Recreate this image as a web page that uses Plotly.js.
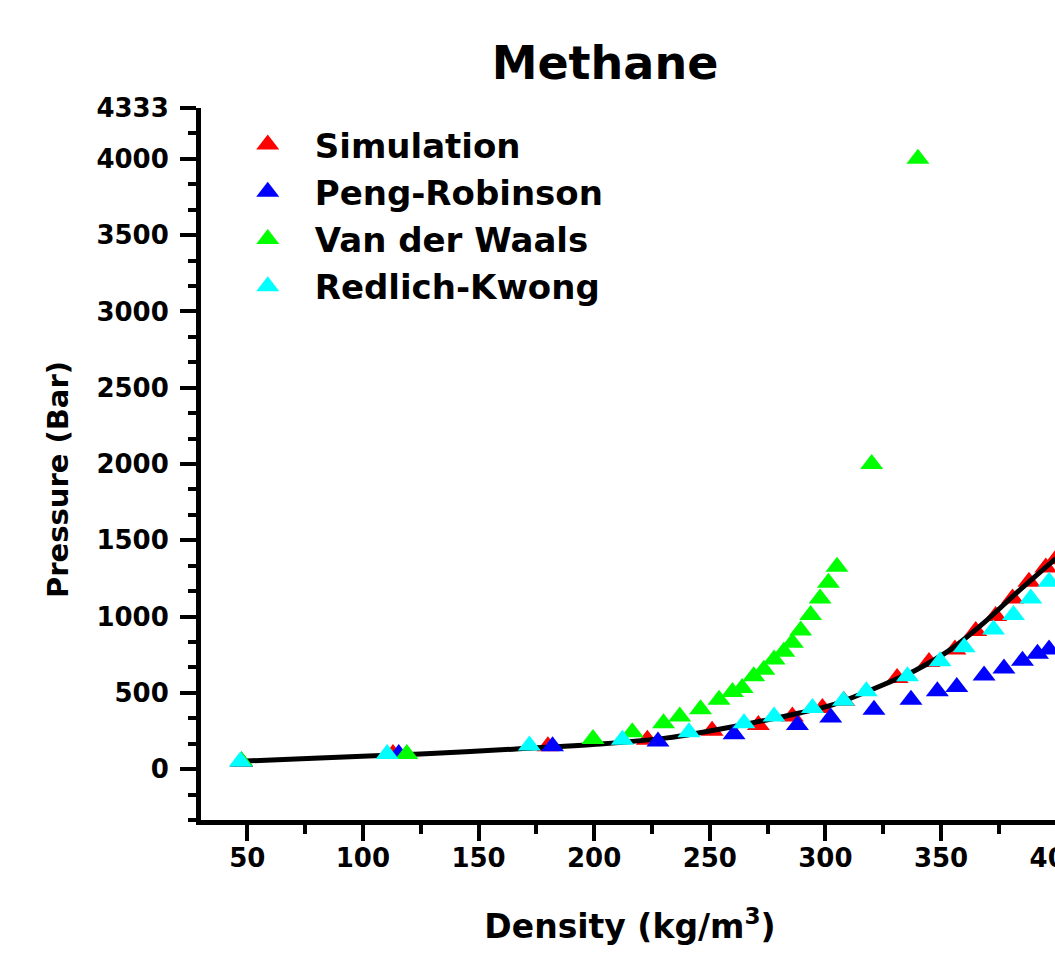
<!DOCTYPE html>
<html>
<head>
<meta charset="utf-8">
<script src="https://cdn.plot.ly/plotly-3.0.1.min.js"></script>
<style>
html, body { margin: 0; padding: 0; overflow: hidden; background: #fff; }
#chart { width: 1100px; height: 954px; }
</style>
</head>
<body>
<div id="chart"></div>
<script>
// ---- data ----
const simDensity = [47.5, 113, 180, 223, 251, 271, 285.7, 298.7, 308, 331, 344.8, 356, 365, 373.6, 380.9, 388, 395.3, 399.6];
const simPressure = [50, 100, 150, 192, 252, 290, 345, 400, 446, 597, 703, 784, 905, 1003, 1119, 1229, 1321, 1376];

const fitDensity = [47.7, 78.7, 125, 165, 202.8, 231.6, 260.5, 289.3, 303.7, 325.3, 339.8, 354.2, 368.6, 383, 399.6];
const fitPressure = [52, 72, 99, 131, 165, 205, 280, 370, 425, 555, 655, 785, 960, 1160, 1380];

const prDensity = [47.5, 115.5, 182, 227.6, 260.5, 287.9, 302.3, 321, 337, 348.4, 356.8, 368.6, 377.2, 385.2, 391.7, 396.7];
const prPressure = [50, 100, 150, 181, 229, 290, 339, 389, 455, 510, 538, 613, 659, 711, 757, 784];

const vdwDensity = [47.5, 119, 199.5, 216.5, 230, 237, 246, 254, 259.8, 264, 269, 273.4, 277.8, 282, 285.7, 289.3, 293.6, 297.7, 301.3, 305, 320, 340];
const vdwPressure = [52, 100, 198, 242, 301, 345, 393, 455, 505, 532, 609, 652, 718, 769, 828, 909, 1010, 1119, 1222, 1326, 2000, 4000];

const rkDensity = [47, 110.5, 172, 212.2, 241, 264.8, 277.8, 294.4, 307.8, 317.7, 335.5, 349.6, 360, 372.7, 381.3, 388.8, 396.7];
const rkPressure = [50, 100, 155, 192, 242, 301, 345, 400, 448, 510, 609, 707, 799, 915, 1010, 1119, 1229];

const yTickVals = [0, 500, 1000, 1500, 2000, 2500, 3000, 3500, 4000, 4333];
const yTickText = ['0', '500', '1000', '1500', '2000', '2500', '3000', '3500', '4000', '4333'];

// ---- chart ----
const FONT = 'DejaVu Sans, Arial, sans-serif';
const W = 1100, H = 954, ML = 201, MR = 41, MT = 108, MB = 134;
const PW = W - ML - MR, PH = H - MT - MB;

function markerTrace(name, x, y, color) {
  return {
    type: 'scatter', mode: 'markers', name: name, x: x, y: y,
    marker: { symbol: 'triangle-up', size: 20, color: color, line: { width: 0 } },
    cliponaxis: true
  };
}

const traces = [
  markerTrace('Simulation', simDensity, simPressure, '#ff0000'),
  { type: 'scatter', mode: 'lines', name: 'fit', x: fitDensity, y: fitPressure,
    line: { color: '#000000', width: 5, shape: 'spline', smoothing: 0.8 }, showlegend: false },
  markerTrace('Peng-Robinson', prDensity, prPressure, '#0000ff'),
  markerTrace('Van der Waals', vdwDensity, vdwPressure, '#00ff00'),
  markerTrace('Redlich-Kwong', rkDensity, rkPressure, '#00ffff')
];

const layout = {
  width: W, height: H,
  paper_bgcolor: '#ffffff', plot_bgcolor: '#ffffff',
  margin: { l: ML, r: MR, t: MT, b: MB },
  font: { family: FONT, color: '#000000' },
  title: {
    text: 'Methane', font: { family: FONT, size: 46, weight: 'bold', color: '#000' },
    xref: 'container', x: 605 / W, xanchor: 'center',
    yref: 'container', y: 1 - 63 / H, yanchor: 'middle'
  },
  xaxis: {
    range: [30, 401], showgrid: false, zeroline: false,
    showline: true, linecolor: '#000', linewidth: 5, mirror: false,
    tickmode: 'linear', tick0: 0, dtick: 50,
    ticks: 'outside', ticklen: 16, tickwidth: 4, tickcolor: '#000',
    minor: { ticks: 'outside', dtick: 25, tick0: 0, ticklen: 9, tickwidth: 4, tickcolor: '#000', showgrid: false },
    tickfont: { family: FONT, size: 26, weight: 'bold', color: '#000' },
    ticklabelstandoff: -5,
    title: { text: 'Density (kg/m<sup>3</sup>)', font: { family: FONT, size: 33, weight: 'bold', color: '#000' }, standoff: 44 }
  },
  yaxis: {
    range: [-333.33, 4333.33], showgrid: false, zeroline: false,
    showline: true, linecolor: '#000', linewidth: 5, mirror: false,
    tickmode: 'array', tickvals: yTickVals, ticktext: yTickText,
    ticks: 'outside', ticklen: 16, tickwidth: 4, tickcolor: '#000',
    minor: { ticks: 'outside', dtick: 500 / 3, tick0: 0, ticklen: 8, tickwidth: 4, tickcolor: '#000', showgrid: false },
    tickfont: { family: FONT, size: 26, weight: 'bold', color: '#000' },
    ticklabelstandoff: 6
  },
  annotations: [{
    text: 'Pressure (Bar)', textangle: -90, showarrow: false,
    xref: 'paper', yref: 'paper',
    x: (58 - ML) / PW, xanchor: 'center',
    y: (MT + PH - 480) / PH, yanchor: 'middle',
    font: { family: FONT, size: 29, weight: 'bold', color: '#000' }
  }],
  showlegend: true,
  legend: {
    x: 0.023, xanchor: 'left', y: 1 - 8 / PH, yanchor: 'top',
    bgcolor: 'rgba(0,0,0,0)', borderwidth: 0,
    font: { family: FONT, size: 34, weight: 'bold', color: '#000' },
    itemwidth: 84, tracegroupgap: 0
  }
};

Plotly.newPlot('chart', traces, layout, { displayModeBar: false, responsive: false }).then(function () {
  // enlarge legend symbols to the size of the plotted triangles
  document.querySelectorAll('.legend .legendpoints path.scatterpts').forEach(function (p) {
    var t = p.getAttribute('transform') || '';
    p.setAttribute('transform', t + ' scale(1.25)');
  });
});
</script>
</body>
</html>
